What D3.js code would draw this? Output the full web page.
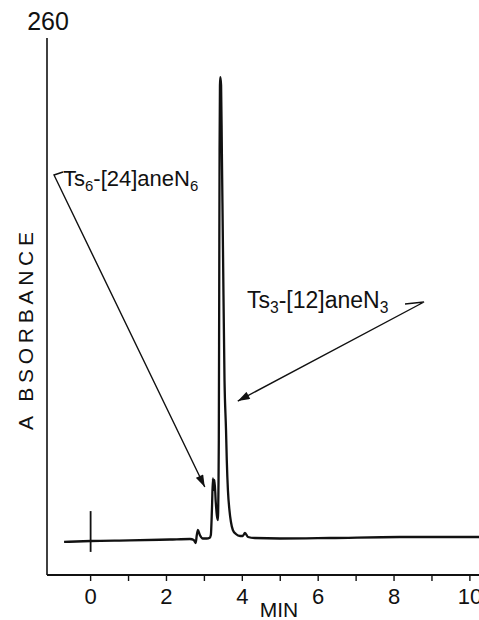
<!DOCTYPE html>
<html>
<head>
<meta charset="utf-8">
<script src="https://cdn.jsdelivr.net/npm/d3@7"></script>
<style>
body { margin: 0; background: #fff; }
text { font-family: "Liberation Sans", Arial, sans-serif; fill: #111; }
</style>
</head>
<body>
<svg id="chromato" width="479" height="620"></svg>
<script>
// retention time (min) and detector signal (arbitrary units, 100 = top of axis)
var times = [-0.70, 0.00, 1.03, 2.09, 2.62, 2.72, 2.77, 2.80, 2.83, 2.88,
    2.96, 3.06, 3.14, 3.17, 3.20, 3.225, 3.24, 3.265, 3.30, 3.33,
    3.355, 3.37, 3.38, 3.39, 3.40, 3.41, 3.42, 3.44, 3.46, 3.49,
    3.53, 3.57, 3.59, 3.62, 3.66, 3.70, 3.75, 3.83, 3.94, 4.01,
    4.07, 4.15, 4.33, 4.99, 6.31, 8.15, 10.24];
var absorbance = [6.15, 6.33, 6.45, 6.61, 6.70, 6.50, 5.96, 7.45, 8.38, 7.45,
    6.80, 6.80, 6.95, 7.45, 12.5, 18.0, 15.8, 17.7, 13.5, 11.0,
    10.24, 15.8, 25.1, 51.2, 79.1, 91.2, 92.7, 91.2, 79.1, 60.5,
    36.3, 27.0, 21.4, 15.8, 12.1, 9.87, 8.38, 7.64, 7.26, 7.26,
    7.82, 7.08, 6.89, 6.80, 6.89, 7.08, 7.08];

var majorTicks = [0, 2, 4, 6, 8, 10];
var minorTicks = [1, 3, 5, 7, 9];

// injection mark
var injectTime = 0;
var injectRange = [4.3, 11.9];

var wavelength = "260";
var xTitle = "MIN";
var yTitle = "A BSORBANCE";

// peak labels: text pieces (sub = subscript) and where the arrow points
var labelLeftParts = [["Ts", false], ["6", true], ["-[24]aneN", false], ["6", true]];
var labelLeftTip = [3.01, 16.4];
var labelRightParts = [["Ts", false], ["3", true], ["-[12]aneN", false], ["3", true]];
var labelRightTip = [3.88, 32.4];

drawChart();

function drawLabel(svg, parts, x, y, size) {
    var t = svg.append("text")
        .attr("x", x)
        .attr("y", y)
        .style("font-size", size + "px");
    parts.forEach(function(p, i) {
        t.append("tspan")
            .attr("dy", p[1] ? 5 : (i > 0 ? -5 : 0))
            .style("font-size", p[1] ? (size * 0.68) + "px" : size + "px")
            .text(p[0]);
    });
    return t;
}

function drawChart() {
    var svg = d3.select("#chromato");

    var x = d3.scaleLinear().domain([-1.15, 10.24]).range([47, 479]);
    var y = d3.scaleLinear().domain([0, 100]).range([575, 38]);

    // arrow head
    svg.append("defs").append("marker")
        .attr("id", "head")
        .attr("markerUnits", "userSpaceOnUse")
        .attr("viewBox", "0 0 12 8")
        .attr("refX", 12)
        .attr("refY", 4)
        .attr("markerWidth", 13)
        .attr("markerHeight", 8)
        .attr("orient", "auto")
        .append("path")
        .attr("d", "M0,0 L12,4 L0,8 Z")
        .style("fill", "#111");

    // axes
    svg.append("line")
        .attr("x1", x(-1.15)).attr("x2", x(-1.15))
        .attr("y1", y(100)).attr("y2", y(0))
        .style("stroke", "#111").style("stroke-width", 1.6);
    svg.append("line")
        .attr("x1", x(-1.15)).attr("x2", 479)
        .attr("y1", y(0)).attr("y2", y(0))
        .style("stroke", "#111").style("stroke-width", 2);

    svg.selectAll("tick")
        .data(majorTicks.concat(minorTicks))
        .enter()
        .append("line")
        .attr("x1", d => x(d)).attr("x2", d => x(d))
        .attr("y1", y(0)).attr("y2", y(0) + 6)
        .style("stroke", "#111").style("stroke-width", 1.4);

    svg.selectAll("ticklabel")
        .data(majorTicks)
        .enter()
        .append("text")
        .attr("x", d => x(d))
        .attr("y", 604)
        .attr("text-anchor", "middle")
        .style("font-size", "22px")
        .text(d => d);

    svg.append("text")
        .attr("x", 279).attr("y", 617)
        .attr("text-anchor", "middle")
        .style("font-size", "21px")
        .text(xTitle);

    svg.append("text")
        .attr("transform", "translate(33,331) rotate(-90)")
        .attr("text-anchor", "middle")
        .attr("textLength", 198)
        .attr("lengthAdjust", "spacing")
        .style("font-size", "21px")
        .text(yTitle);

    svg.append("text")
        .attr("x", 48).attr("y", 30)
        .attr("text-anchor", "middle")
        .style("font-size", "25px")
        .text(wavelength);

    // injection mark
    svg.append("line")
        .attr("x1", x(injectTime)).attr("x2", x(injectTime))
        .attr("y1", y(injectRange[0])).attr("y2", y(injectRange[1]))
        .style("stroke", "#111").style("stroke-width", 1.8);

    // trace
    var trace = times.map((t, i) => [t, absorbance[i]]);
    svg.append("path")
        .datum(trace)
        .attr("fill", "none")
        .attr("d", d3.line()
            .x(d => x(d[0]))
            .y(d => y(d[1]))
            .curve(d3.curveMonotoneX))
        .style("stroke", "#111")
        .style("stroke-width", 2.3)
        .style("stroke-linejoin", "round");

    // labels and arrows
    drawLabel(svg, labelLeftParts, 63, 186, 22);
    svg.append("path")
        .attr("d", "M63,172 L54,175 L" + x(labelLeftTip[0]) + "," + y(labelLeftTip[1]))
        .attr("fill", "none")
        .attr("marker-end", "url(#head)")
        .style("stroke", "#111").style("stroke-width", 1.4);

    drawLabel(svg, labelRightParts, 247, 308, 23);
    svg.append("path")
        .attr("d", "M405,304 L424,302 L" + x(labelRightTip[0]) + "," + y(labelRightTip[1]))
        .attr("fill", "none")
        .attr("marker-end", "url(#head)")
        .style("stroke", "#111").style("stroke-width", 1.4);
}
</script>
</body>
</html>
